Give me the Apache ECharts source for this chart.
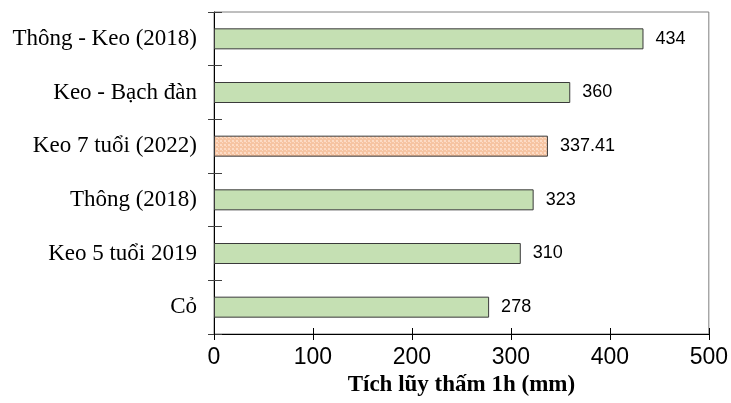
<!DOCTYPE html>
<html>
<head>
<meta charset="utf-8">
<script src="https://cdn.jsdelivr.net/npm/echarts@6/dist/echarts.min.js"></script>
<style>html,body{margin:0;padding:0;background:#fff}#c{width:731px;height:403px}</style>
</head>
<body>
<div id="c"></div>
<script>
const categories = ["Thông - Keo (2018)", "Keo - Bạch đàn", "Keo 7 tuổi (2022)", "Thông (2018)", "Keo 5 tuổi 2019", "Cỏ"];
const values = [434, 360, 337.41, 323, 310, 278];
const highlightIndex = 2;
const xTicks = [0, 100, 200, 300, 400, 500];
const xTitle = "Tích lũy thấm 1h (mm)";

const cv = document.createElement('canvas');
cv.width = 4; cv.height = 4;
const cx = cv.getContext('2d');
cx.fillStyle = '#f6c4a2'; cx.fillRect(0, 0, 4, 4);
cx.fillStyle = '#fddcc6'; cx.fillRect(0, 0, 2, 2); cx.fillRect(2, 2, 1, 1);

const chart = echarts.init(document.getElementById('c'), null, {renderer: 'canvas'});
const data = values.map((v, i) => ({
  value: v,
  itemStyle: i === highlightIndex ? {color: {image: cv, repeat: 'repeat'}} : {color: '#c5e0b3'}
}));
chart.setOption({
  animation: false,
  grid: {left: 214, right: 21, top: 12, bottom: 69, show: true, borderColor: '#7f7f7f', borderWidth: 1, backgroundColor: 'transparent'},
  xAxis: [{
    type: 'value', min: xTicks[0], max: xTicks[xTicks.length - 1], interval: 100,
    axisLine: {show: true, lineStyle: {color: '#000', width: 1}},
    axisTick: {show: true, inside: false, length: 6, lineStyle: {color: '#000'}},
    splitLine: {show: false},
    axisLabel: {fontFamily: 'Liberation Sans', fontSize: 23, color: '#000', margin: 12},
    name: xTitle, nameLocation: 'middle', nameGap: 40,
    nameTextStyle: {fontFamily: 'Liberation Serif', fontWeight: 'bold', fontSize: 23, color: '#000'}
  }, {
    type: 'value', position: 'bottom', min: xTicks[0], max: xTicks[xTicks.length - 1], interval: 100,
    axisLine: {show: false}, axisTick: {show: true, inside: true, length: 6, lineStyle: {color: '#000'}},
    axisLabel: {show: false}, splitLine: {show: false}
  }],
  yAxis: [{
    type: 'category', data: categories, inverse: true,
    axisLine: {show: true, lineStyle: {color: '#000', width: 1}},
    axisTick: {show: true, inside: false, length: 6, lineStyle: {color: '#404040'}},
    axisLabel: {fontFamily: 'Liberation Serif', fontSize: 23, color: '#000', margin: 17}
  }, {
    type: 'category', data: categories, inverse: true, position: 'left',
    axisLine: {show: false},
    axisTick: {show: true, inside: true, length: 8, lineStyle: {color: '#404040'}},
    axisLabel: {show: false}
  }],
  series: [{
    type: 'bar', data: data, barWidth: 21,
    itemStyle: {borderColor: '#3a3a3a', borderWidth: 1},
    label: {show: true, position: 'right', distance: 12, fontFamily: 'Liberation Sans', fontSize: 18, color: '#000'}
  }]
});
</script>
</body>
</html>
